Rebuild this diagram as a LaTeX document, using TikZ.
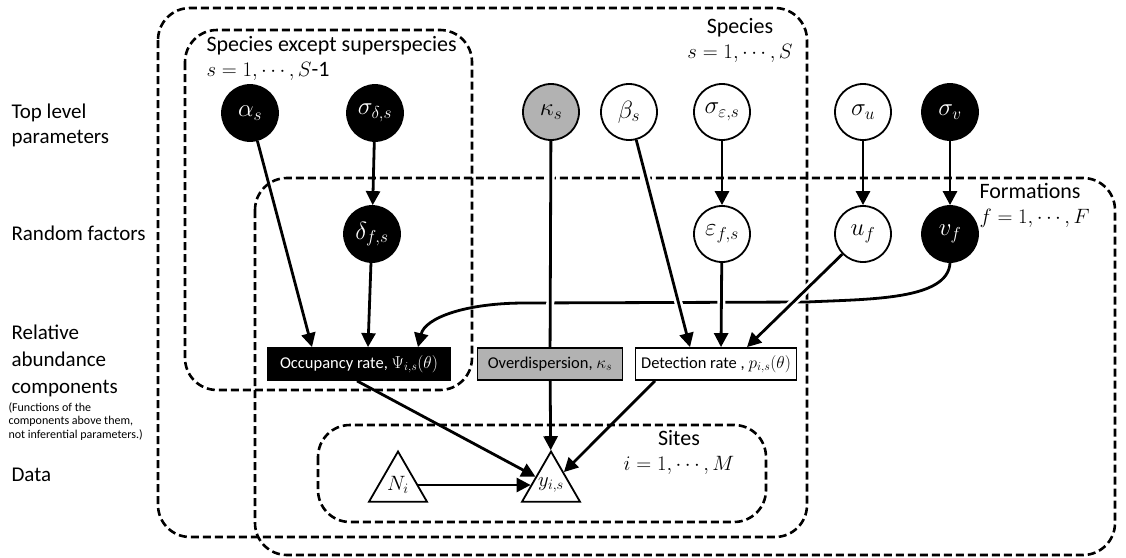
\documentclass[tikz,border=0pt]{standalone}
\usepackage{fontspec}
\setmainfont{Carlito}
\usetikzlibrary{arrows.meta,shapes.geometric}
\tikzset{
  plate/.style={draw,dash pattern=on 8pt off 4pt,line width=2.6pt,rounded corners=32pt},
  param/.style={circle,draw,line width=1.8pt,minimum size=56pt,inner sep=0pt,font=\fontsize{23}{26}\selectfont},
  blackpar/.style={param,fill=black,text=white},
  disp/.style={param,fill=black!30},
  func/.style={draw,line width=1.8pt,minimum height=32pt,inner sep=2pt,font=\fontsize{16.5}{19}\selectfont},
  obs/.style={regular polygon,regular polygon sides=3,draw,line width=1.8pt,minimum size=67pt,inner sep=0pt},
  edge/.style={line width=2.8pt,-{Triangle[length=14pt,width=14pt]}},
  bridge/.style={preaction={draw=white,line width=8pt,-,shorten <=8pt,shorten >=18pt}},
  rowlab/.style={anchor=west,align=left,font=\fontsize{21}{25}\selectfont},
  platelab/.style={font=\fontsize{22}{25}\selectfont}
}
\begin{document}
\begin{tikzpicture}[x=1pt,y=-1pt]
  \useasboundingbox (0,0) rectangle (1126,557);
  \draw[plate] (158,8) rectangle (807,537);
  \draw[plate] (185,30) rectangle (472,390);
  \draw[plate] (255,178) rectangle (1115,555);
  \draw[plate] (318,425) rectangle (766,522);
  \node[platelab,align=center] (spl) at (740,40) {Species\\$s=1,\cdots,S$};
  \node[platelab,anchor=north west,align=left] (subl) at (203,33) {Species except superspecies\\$s=1,\cdots,S$-1};
  \node[platelab,anchor=north west,align=left] (fl) at (976,180) {Formations\\$f=1,\cdots,F$};
  \node[platelab,align=center] (sl) at (679,452) {Sites\\$i=1,\cdots,M$};
  \node[rowlab] (top) at (8,125) {Top level\\parameters};
  \node[rowlab] (rand) at (8,233) {Random factors};
  \node[rowlab,font=\fontsize{21}{27}\selectfont] (rel) at (8,361) {Relative\\abundance\\components};
  \node[anchor=north west,align=left,font=\fontsize{12}{13.5}\selectfont] (note) at (5,399) {(Functions of the\\components above them,\\not inferential parameters.)};
  \node[rowlab] (data) at (8,475) {Data};
  \node[blackpar] (alpha) at (250,113) {$\alpha_s$};
  \node[blackpar] (sigd) at (375,113) {$\sigma_{\delta,s}$};
  \node[disp] (kappa) at (551,112) {$\kappa_s$};
  \node[param] (beta) at (629,112) {$\beta_s$};
  \node[param] (sige) at (722,112) {$\sigma_{\varepsilon,s}$};
  \node[param] (sigu) at (863,112) {$\sigma_u$};
  \node[blackpar] (sigv) at (950,112) {$\sigma_v$};
  \node[blackpar] (delta) at (372,234) {$\delta_{f,s}$};
  \node[param] (eps) at (722,234) {$\varepsilon_{f,s}$};
  \node[param] (u) at (863,234) {$u_f$};
  \node[blackpar] (v) at (950,234) {$v_f$};
  \node[func,fill=black,text=white,minimum width=182pt] (occ) at (359,364) {Occupancy rate, $\Psi_{i,s}(\theta)$};
  \node[func,fill=black!30,minimum width=145pt] (over) at (550,364) {Overdispersion, $\kappa_s$};
  \node[func,fill=white,minimum width=161pt] (det) at (716,364) {Detection rate , $p_{i,s}(\theta)$};
  \node[obs,label={[font=\fontsize{22}{24}\selectfont]center:$N_i$}] (N) at (398,485) {};
  \node[obs,label={[font=\fontsize{22}{24}\selectfont]center:$y_{i,s}$}] (y) at (551,485) {};
  \coordinate (cr) at (807,302);
  \coordinate (cl) at (525,303);
  \draw[edge] (v.south) .. controls (948,300) and (870,299) .. (cr) -- (cl) .. controls (465,303) and (425,318) .. ([xshift=59pt]occ.north);
  \draw[edge] (alpha) -- ([xshift=-47pt]occ.north);
  \draw[edge] (sigd) -- (delta);
  \draw[edge] (delta) -- ([xshift=9pt]occ.north);
  \draw[line width=2.8pt,bridge] (kappa) -- (over);
  \draw[edge,bridge] (beta) -- ([xshift=-26pt]det.north);
  \draw[edge] (sige) -- (eps);
  \draw[edge,bridge] (eps) -- ([xshift=5pt]det.north);
  \draw[edge] (sigu) -- (u);
  \draw[edge,bridge] (u) -- ([xshift=31pt]det.north);
  \draw[edge] (sigv) -- (v);
  \draw[edge] ([xshift=-2pt]occ.south) -- (y);
  \draw[edge] (over) -- (y);
  \draw[edge] ([xshift=-61pt]det.south) -- (y);
  \draw[edge] (N) -- (y);
\end{tikzpicture}
\end{document}
